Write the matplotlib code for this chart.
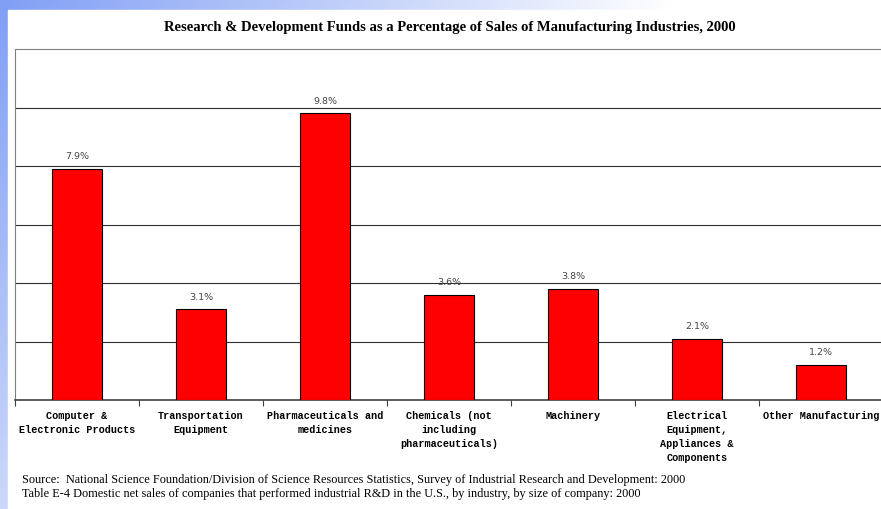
import numpy as np
import matplotlib.pyplot as plt
from matplotlib.patches import Rectangle

categories = ['Computer &\nElectronic Products', 'Transportation\nEquipment',
              'Pharmaceuticals and\nmedicines', 'Chemicals (not\nincluding\npharmaceuticals)',
              'Machinery', 'Electrical\nEquipment,\nAppliances &\nComponents',
              'Other Manufacturing']
values = [7.9, 3.1, 9.8, 3.6, 3.8, 2.1, 1.2]
value_labels = ['7.9%', '3.1%', '9.8%', '3.6%', '3.8%', '2.1%', '1.2%']

title = 'Research & Development Funds as a Percentage of Sales of Manufacturing Industries, 2000'
source = ['Source:  National Science Foundation/Division of Science Resources Statistics, '
          'Survey of Industrial Research and Development: 2000',
          'Table E-4 Domestic net sales of companies that performed industrial R&D in the U.S., '
          'by industry, by size of company: 2000']

W, H = 881, 510
fig = plt.figure(figsize=(W / 100, H / 100), dpi=100)

# blue gradient frame behind the white panel
bg = fig.add_axes([0, 0, 1, 1], zorder=-10)
xx, yy = np.meshgrid(np.linspace(0, 1, 300), np.linspace(0, 1, 200))
t = np.clip(xx * 1.3 + yy * 0.6, 0, 1)
blue = np.array([0.50, 0.62, 0.96])
img = blue[None, None, :] * (1 - t[..., None]) + np.ones(3) * t[..., None]
bg.imshow(img, extent=[0, 1, 0, 1], aspect='auto', origin='upper')
bg.add_patch(Rectangle((8 / W, 0), 1, 1 - 11 / H, color='white', transform=bg.transAxes))
bg.set_xlim(0, 1)
bg.set_ylim(0, 1)
bg.axis('off')

# main chart
ax = fig.add_axes([15 / W, 1 - 401 / H, 868 / W, 351 / H])
x = np.arange(len(values))
ax.bar(x, values, width=0.4, color='#ff0000', edgecolor='black', linewidth=0.8, zorder=3)
for xi, v, lab in zip(x, values, value_labels):
    ax.text(xi, v + 0.3, lab, ha='center', va='bottom', fontsize=6.8,
            family='DejaVu Sans', color='#444444')

ax.set_xlim(-0.5, len(values) - 0.5)
ax.set_ylim(0, 12)
ax.set_yticks([2, 4, 6, 8, 10])
ax.yaxis.grid(True, color='#303030', linewidth=0.8)
ax.tick_params(axis='y', length=0, labelleft=False)
ax.set_xticks(x)
ax.set_xticklabels(categories, family='Liberation Mono', fontweight='bold',
                   fontsize=7.3, linespacing=1.5)
ax.tick_params(axis='x', length=0, pad=7)
ax.set_xticks(np.arange(-0.5, len(values)), minor=True)
ax.tick_params(axis='x', which='minor', length=4, width=0.8, color='#404040')

for s in ['left', 'top']:
    ax.spines[s].set_color('#808080')
ax.spines['right'].set_visible(False)
ax.spines['bottom'].set_color('#404040')
ax.spines['bottom'].set_linewidth(1.2)

fig.text(450 / W, 1 - 28 / H, title, ha='center', va='center', family='Liberation Serif',
         fontweight='bold', fontsize=10.5)
fig.text(22 / W, 1 - 480 / H, source[0], ha='left', va='center',
         family='Liberation Serif', fontsize=8.8)
fig.text(22 / W, 1 - 494 / H, source[1], ha='left', va='center',
         family='Liberation Serif', fontsize=8.8)

plt.savefig('out.png', dpi=100)
